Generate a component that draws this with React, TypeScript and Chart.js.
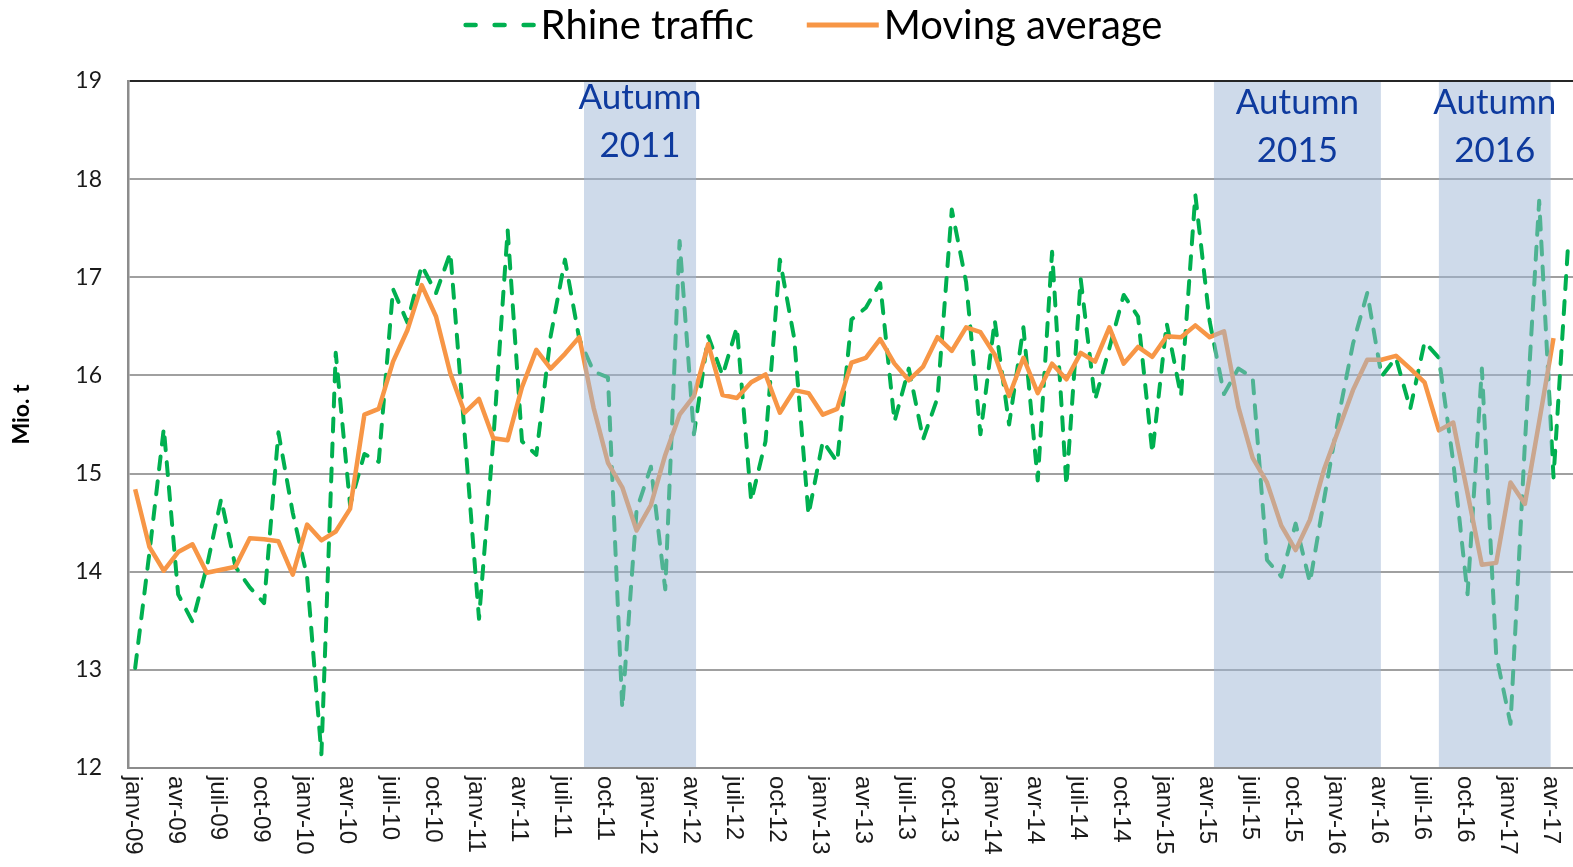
import React, { useEffect, useRef } from 'react';
import { Chart, registerables } from 'chart.js';

Chart.register(...registerables);

// ---- categories -------------------------------------------------------
const monthAbbr = ['janv', 'févr', 'mars', 'avr', 'mai', 'juin', 'juil', 'août', 'sept', 'oct', 'nov', 'déc'];
const startYear = 2009;
const monthCount = 101; // janv-09 .. mai-17
const categories: string[] = Array.from({ length: monthCount }, (_, i) =>
  `${monthAbbr[i % 12]}-${String((startYear + Math.floor(i / 12)) % 100).padStart(2, '0')}`
);
const labelEvery = 3;

// ---- series (Mio. t) --------------------------------------------------
const rhineTraffic = [
  13.02, 14.2, 15.46, 13.77, 13.49, 14.05, 14.74, 14.05, 13.84, 13.68,
  15.42, 14.6, 13.95, 12.14, 16.23, 14.68, 15.2, 15.12, 16.88, 16.54,
  17.12, 16.84, 17.25, 15.4, 13.52, 15.35, 17.48, 15.33, 15.19, 16.4,
  17.18, 16.37, 16.04, 15.98, 12.61, 14.63, 15.07, 13.82, 17.37, 15.4,
  16.4, 16.0, 16.49, 14.72, 15.33, 17.18, 16.38, 14.58, 15.33, 15.12,
  16.57, 16.69, 16.94, 15.53, 16.07, 15.35, 15.77, 17.69, 16.95, 15.4,
  16.56, 15.5, 16.49, 14.93, 17.26, 14.88, 16.98, 15.75, 16.28, 16.82,
  16.6, 15.21, 16.53, 15.79, 17.84, 16.55, 15.81, 16.07, 15.98, 14.12,
  13.95, 14.49, 13.89, 14.75, 15.58, 16.32, 16.84, 15.99, 16.18, 15.66,
  16.34, 16.18, 15.12, 13.77, 16.07, 13.15, 12.45, 15.3, 17.78, 14.96,
  17.29,
];

const movingAverage: (number | null)[] = [
  14.84, 14.25, 14.01, 14.2, 14.28, 13.99, 14.02, 14.05, 14.34, 14.33,
  14.31, 13.97, 14.48, 14.32, 14.41, 14.64, 15.6, 15.66, 16.14, 16.46,
  16.92, 16.6, 16.02, 15.62, 15.76, 15.36, 15.34, 15.88, 16.26, 16.07,
  16.22, 16.39, 15.67, 15.11, 14.86, 14.42, 14.68, 15.19, 15.6, 15.79,
  16.32, 15.8, 15.77, 15.93, 16.01, 15.62, 15.85, 15.82, 15.6, 15.66,
  16.13, 16.18, 16.37, 16.12, 15.95, 16.09, 16.39, 16.25, 16.49, 16.44,
  16.21, 15.79, 16.18, 15.82, 16.12, 15.96, 16.23, 16.14, 16.49, 16.12,
  16.29, 16.19, 16.4, 16.39, 16.51, 16.39, 16.45, 15.68, 15.16, 14.91,
  14.47, 14.22, 14.53, 15.05, 15.45, 15.85, 16.16, 16.16, 16.2, 16.07,
  15.93, 15.44, 15.52, 14.8, 14.07, 14.09, 14.91, 14.69, 15.53, 16.38,
  null,
];

// ---- y axis -----------------------------------------------------------
const yMin = 12;
const yMax = 19;
const yStep = 1;
const yTitle = 'Mio. t';

// ---- autumn highlights (in category-index units) -----------------------
const autumnTitles = [['Autumn', '2011'], ['Autumn', '2015'], ['Autumn', '2016']];
const autumnFrom = [31.33, 75.3, 91.0];
const autumnTo = [39.15, 86.95, 98.8];
const autumnTextY = [[18.83, 18.34], [18.78, 18.29], [18.78, 18.29]];

// ---- legend -----------------------------------------------------------
const legendLabels = ['Rhine traffic', 'Moving average'];

const GREEN = '#00B050';
const ORANGE = '#F79646';

const shadePlugin = {
  id: 'autumnShade',
  afterDatasetsDraw(chart: any) {
    const { ctx, chartArea, scales } = chart;
    const x = scales.x;
    const y = scales.y;
    ctx.save();
    for (let k = 0; k < autumnFrom.length; k++) {
      const x0 = x.getPixelForValue(autumnFrom[k]);
      const x1 = x.getPixelForValue(autumnTo[k]);
      ctx.fillStyle = 'rgba(157,182,214,0.5)';
      ctx.fillRect(x0, chartArea.top + 1, x1 - x0, chartArea.bottom - chartArea.top - 2);
      ctx.fillStyle = '#0E3A9E';
      ctx.font = '35px Lato';
      ctx.textAlign = 'center';
      ctx.textBaseline = 'middle';
      autumnTitles[k].forEach((t, j) => {
        ctx.fillText(t, (x0 + x1) / 2, y.getPixelForValue(autumnTextY[k][j]));
      });
    }
    ctx.restore();
  },
};

const axisTextPlugin = {
  id: 'axisText',
  afterDraw(chart: any) {
    const { ctx, chartArea } = chart;
    const x = chart.scales.x;
    ctx.save();
    // rotated month labels (reading top to bottom)
    ctx.font = '24px "Liberation Sans", Arial, sans-serif';
    ctx.fillStyle = '#1a1a1a';
    ctx.textAlign = 'left';
    ctx.textBaseline = 'middle';
    categories.forEach((lab, i) => {
      if (i % labelEvery !== 0) return;
      const px = x.getPixelForValue(i);
      ctx.save();
      ctx.translate(px - 3, chartArea.bottom + 8);
      ctx.rotate(Math.PI / 2);
      ctx.fillText(lab, 0, 0);
      ctx.restore();
    });
    // y-axis title
    ctx.save();
    ctx.font = 'bold 23px Lato';
    ctx.fillStyle = '#000';
    ctx.textAlign = 'center';
    ctx.textBaseline = 'middle';
    ctx.translate(22, (chartArea.top + chartArea.bottom) / 2 - 10);
    ctx.rotate(-Math.PI / 2);
    ctx.fillText(yTitle, 0, 0);
    ctx.restore();
    ctx.restore();
  },
};

const legendPlugin = {
  id: 'customLegend',
  afterDraw(chart: any) {
    const { ctx } = chart;
    ctx.save();
    ctx.font = '40px Lato';
    const sample = 72;
    const gap = 5;
    const spacing = 53;
    const w1 = ctx.measureText(legendLabels[0]).width;
    const w2 = ctx.measureText(legendLabels[1]).width;
    const total = sample + gap + w1 + spacing + sample + gap + w2;
    const centerX = 813;
    const cy = 25;
    let cx = centerX - total / 2;
    // green dashed sample
    ctx.strokeStyle = GREEN;
    ctx.lineWidth = 4.5;
    ctx.lineCap = 'round';
    ctx.setLineDash([10, 19]);
    ctx.beginPath();
    ctx.moveTo(cx + 2, cy);
    ctx.lineTo(cx + sample, cy);
    ctx.stroke();
    ctx.setLineDash([]);
    ctx.fillStyle = '#000';
    ctx.textAlign = 'left';
    ctx.textBaseline = 'middle';
    ctx.fillText(legendLabels[0], cx + sample + gap, cy + 1);
    cx += sample + gap + w1 + spacing;
    // orange sample
    ctx.strokeStyle = ORANGE;
    ctx.lineWidth = 5;
    ctx.lineCap = 'butt';
    ctx.beginPath();
    ctx.moveTo(cx, cy);
    ctx.lineTo(cx + sample, cy);
    ctx.stroke();
    ctx.fillText(legendLabels[1], cx + sample + gap, cy + 1);
    ctx.restore();
  },
};

export default function App() {
  const ref = useRef<HTMLCanvasElement>(null);

  useEffect(() => {
    if (!ref.current) return;
    const chart = new Chart(ref.current, {
      type: 'line',
      data: {
        labels: categories,
        datasets: [
          {
            label: legendLabels[0],
            data: rhineTraffic,
            borderColor: GREEN,
            backgroundColor: GREEN,
            borderWidth: 4,
            borderDash: [13, 12],
            borderCapStyle: 'round',
            borderJoinStyle: 'round',
            pointRadius: 0,
            tension: 0,
            order: 2,
          },
          {
            label: legendLabels[1],
            data: movingAverage,
            borderColor: ORANGE,
            backgroundColor: ORANGE,
            borderWidth: 4.5,
            borderJoinStyle: 'round',
            pointRadius: 0,
            tension: 0,
            spanGaps: false,
            order: 1,
          },
        ],
      },
      options: {
        responsive: false,
        animation: false,
        events: [],
        layout: { padding: { top: 81, right: 15, left: 0, bottom: 0 } },
        plugins: {
          legend: { display: false },
          tooltip: { enabled: false },
          title: { display: false },
        },
        scales: {
          x: {
            type: 'category',
            offset: true,
            grid: { display: false, drawTicks: false },
            border: { display: true, color: '#8C8C8C', width: 2 },
            ticks: { display: false },
            afterFit: (s: any) => {
              s.height = 99;
            },
          },
          y: {
            min: yMin,
            max: yMax,
            ticks: {
              stepSize: yStep,
              padding: 26,
              color: '#1a1a1a',
              font: { family: 'Lato', size: 23 },
            },
            grid: {
              color: (c: any) => (c.tick && c.tick.value === yMax ? '#262626' : '#A0A0A0'),
              lineWidth: 2,
              drawTicks: false,
            },
            border: { display: true, color: '#8C8C8C', width: 2.5 },
            title: { display: false },
            afterFit: (s: any) => {
              s.width = 128;
            },
          },
        },
      } as any,
      plugins: [shadePlugin, axisTextPlugin, legendPlugin],
    });
    return () => chart.destroy();
  }, []);

  return (
    <div
      style={{
        position: 'fixed',
        left: 0,
        top: 0,
        width: '100vw',
        height: '100vh',
        overflow: 'hidden',
        background: '#fff',
      }}
    >
      <canvas ref={ref} width={1590} height={867} style={{ display: 'block', width: 1590, height: 867 }} />
    </div>
  );
}
